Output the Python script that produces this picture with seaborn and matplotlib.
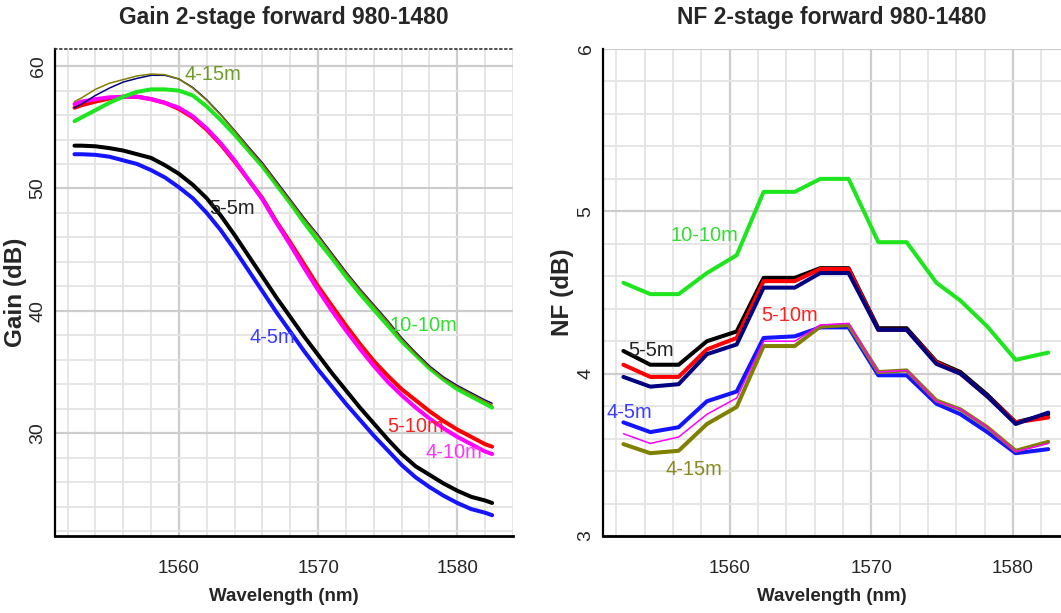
import matplotlib
matplotlib.use("Agg")
import matplotlib.pyplot as plt
from matplotlib.ticker import MultipleLocator
import seaborn as sns
import pandas as pd

# ---------------- data ----------------
gain_wl = [1552.5] + list(range(1553, 1583)) + [1582.5]
gain_4_15 = [57.1, 57.4, 58.1, 58.6, 58.9, 59.2, 59.35, 59.3, 58.95, 58.2,
             57.2, 56.0, 54.7, 53.3, 52.0, 50.5, 49.0, 47.5, 46.1, 44.6,
             43.1, 41.7, 40.4, 39.1, 37.7, 36.5, 35.4, 34.5, 33.8, 33.2,
             32.6, 32.3]
gain_navy = [56.6, 56.9, 57.6, 58.2, 58.7, 59.0, 59.25, 59.25, 58.95, 58.25,
             57.25, 56.05, 54.75, 53.4, 52.1, 50.6, 49.1, 47.6, 46.2, 44.7,
             43.2, 41.8, 40.5, 39.2, 37.8, 36.6, 35.5, 34.6, 33.9, 33.3,
             32.7, 32.45]
gain_10_10 = [55.5, 55.8, 56.4, 57.0, 57.5, 57.9, 58.1, 58.1, 58.0, 57.6,
              56.7, 55.6, 54.4, 53.1, 51.8, 50.3, 48.8, 47.2, 45.7, 44.3,
              42.8, 41.4, 40.1, 38.8, 37.5, 36.4, 35.3, 34.4, 33.6, 33.0,
              32.4, 32.1]
gain_5_10 = [56.6, 56.8, 57.1, 57.35, 57.5, 57.5, 57.3, 57.0, 56.5, 55.8,
             54.8, 53.6, 52.2, 50.7, 49.2, 47.3, 45.6, 43.8, 42.0, 40.4,
             38.8, 37.3, 35.9, 34.7, 33.6, 32.7, 31.8, 31.0, 30.3, 29.7,
             29.1, 28.9]
gain_4_10 = [56.9, 57.1, 57.3, 57.45, 57.5, 57.5, 57.3, 57.0, 56.6, 55.9,
             54.9, 53.7, 52.3, 50.7, 49.1, 47.2, 45.4, 43.5, 41.7, 40.0,
             38.4, 36.9, 35.5, 34.2, 33.1, 32.1, 31.2, 30.4, 29.7, 29.1,
             28.5, 28.3]
gain_5_5 = [53.5, 53.5, 53.45, 53.3, 53.1, 52.8, 52.5, 51.9, 51.2, 50.3,
            49.2, 47.8, 46.2, 44.5, 42.8, 41.1, 39.5, 37.9, 36.4, 34.9,
            33.5, 32.1, 30.8, 29.5, 28.3, 27.3, 26.6, 25.9, 25.3, 24.8,
            24.5, 24.3]
gain_4_5 = [52.8, 52.8, 52.75, 52.6, 52.3, 52.0, 51.5, 50.9, 50.1, 49.2,
            48.0, 46.6, 45.0, 43.3, 41.6, 39.9, 38.3, 36.7, 35.2, 33.8,
            32.4, 31.1, 29.8, 28.6, 27.4, 26.4, 25.6, 24.9, 24.3, 23.8,
            23.5, 23.3]

nf_wl = [1552.5, 1554.4, 1556.4, 1558.4, 1560.5, 1562.4, 1564.6, 1566.4,
         1568.4, 1570.5, 1572.5, 1574.6, 1576.3, 1578.2, 1580.2, 1582.5]
nf_10_10 = [4.56, 4.49, 4.49, 4.62, 4.73, 5.12, 5.12, 5.20, 5.20, 4.81,
            4.81, 4.56, 4.45, 4.29, 4.085, 4.13]
nf_5_5 = [4.14, 4.055, 4.055, 4.20, 4.26, 4.59, 4.59, 4.65, 4.65, 4.28,
          4.28, 4.075, 4.01, 3.87, 3.70, 3.75]
nf_5_10 = [4.055, 3.98, 3.98, 4.15, 4.22, 4.57, 4.57, 4.645, 4.645, 4.27,
           4.27, 4.07, 4.0, 3.86, 3.70, 3.73]
nf_navy = [3.98, 3.92, 3.935, 4.12, 4.18, 4.53, 4.53, 4.62, 4.62, 4.27,
           4.27, 4.06, 4.0, 3.86, 3.69, 3.76]
nf_4_5 = [3.70, 3.64, 3.67, 3.83, 3.89, 4.22, 4.23, 4.285, 4.285, 3.99,
          3.99, 3.815, 3.75, 3.64, 3.51, 3.535]
nf_4_10 = [3.63, 3.57, 3.61, 3.75, 3.85, 4.20, 4.20, 4.30, 4.31, 4.01,
           4.02, 3.83, 3.78, 3.67, 3.52, 3.57]
nf_4_15 = [3.566, 3.51, 3.525, 3.69, 3.795, 4.17, 4.17, 4.29, 4.30, 4.01,
           4.02, 3.835, 3.78, 3.67, 3.525, 3.58]

titles = ["Gain 2-stage forward 980-1480", "NF 2-stage forward 980-1480"]
ylabels = ["Gain (dB)", "NF (dB)"]
xlabel = "Wavelength (nm)"

C_OLIVE = "#808000"
C_NAVY = "#000080"
C_GREEN = "#1ee61e"
C_RED = "#ff0000"
C_MAG = "#ff00ff"
C_BLACK = "#000000"
C_BLUE = "#1414ff"

# ---------------- style ----------------
sns.set_style("white")
FAM = ["Liberation Sans Narrow", "Liberation Sans", "DejaVu Sans"]
plt.rcParams["font.family"] = FAM

W, H = 1061, 613
fig = plt.figure(figsize=(W / 100, H / 100), dpi=100)
axL = fig.add_axes([55 / W, 1 - 536 / H, 458 / W, 487 / H])
axR = fig.add_axes([603 / W, 1 - 536 / H, 458 / W, 487 / H])

THICK = 2.9
THIN = 1.1

gain_series = [
    (gain_4_5, C_BLUE, THICK),
    (gain_5_5, C_BLACK, THICK),
    (gain_5_10, C_RED, THICK),
    (gain_4_10, C_MAG, THICK),
    (gain_10_10, C_GREEN, THICK),
    (gain_navy, C_NAVY, THIN),
    (gain_4_15, C_OLIVE, THIN),
]
for vals, col, lw in gain_series:
    df = pd.DataFrame({"wl": gain_wl, "v": vals})
    sns.lineplot(data=df, x="wl", y="v", ax=axL, color=col, linewidth=lw,
                 sort=False, zorder=3)

nf_series = [
    (nf_10_10, C_GREEN, THICK),
    (nf_5_5, C_BLACK, THICK),
    (nf_5_10, C_RED, THICK),
    (nf_navy, C_NAVY, THICK),
    (nf_4_5, C_BLUE, THICK),
    (nf_4_15, C_OLIVE, THICK),
    (nf_4_10, C_MAG, THIN),
]
for vals, col, lw in nf_series:
    df = pd.DataFrame({"wl": nf_wl, "v": vals})
    sns.lineplot(data=df, x="wl", y="v", ax=axR, color=col, linewidth=lw,
                 sort=False, zorder=3)

axL.set_xlim(1551.1, 1584.0)
axL.set_ylim(21.6, 61.4)
axR.set_xlim(1551.06, 1583.4)
axR.set_ylim(3.0, 6.0)

for ax, ymaj, ymin, ttl, ylab, ylx in [
        (axL, 10, 2, titles[0], ylabels[0], -0.061),
        (axR, 1, 0.2, titles[1], ylabels[1], -0.063)]:
    ax.xaxis.set_major_locator(MultipleLocator(10))
    ax.xaxis.set_minor_locator(MultipleLocator(2))
    ax.yaxis.set_major_locator(MultipleLocator(ymaj))
    ax.yaxis.set_minor_locator(MultipleLocator(ymin))
    ax.grid(which="major", color="#cdcdcd", linewidth=1.6, zorder=0)
    ax.grid(which="minor", color="#e4e4e4", linewidth=1.3, zorder=0)
    ax.set_axisbelow(True)
    ax.tick_params(axis="y", which="major", direction="inout", length=10,
                   width=1.5, labelsize=14, pad=1, color="black")
    ax.tick_params(axis="y", which="minor", direction="inout", length=5,
                   width=1.5, color="black")
    ax.tick_params(axis="x", which="major", direction="inout", length=6,
                   width=1.2, labelsize=13.5, pad=14, color="black")
    ax.tick_params(axis="x", which="minor", direction="inout", length=6,
                   width=1.2, color="black")
    for lab in ax.get_yticklabels():
        lab.set_rotation(90)
        lab.set_va("center")
    ax.spines["left"].set_color("black")
    ax.spines["left"].set_linewidth(1.6)
    ax.spines["bottom"].set_color("black")
    ax.spines["bottom"].set_linewidth(2.0)
    ax.spines["right"].set_visible(False)
    ax.set_title(ttl, fontsize=16.5, fontweight="bold", y=1.064,
                 va="center", pad=0)
    ax.set_xlabel(xlabel, fontsize=13.5, fontweight="bold")
    ax.set_ylabel(ylab, fontsize=17.5, fontweight="bold")
    ax.xaxis.set_label_coords(0.5, -0.107)
    ax.yaxis.set_label_coords(ylx, 0.5)

axL.spines["top"].set_color("#333333")
axL.spines["top"].set_linewidth(1.2)
axL.spines["top"].set_linestyle((0, (1, 2)))
axR.spines["top"].set_visible(False)

# curve labels
lab_kw = dict(fontsize=14.5, va="center", ha="left", zorder=5)
axL.text(1560.4, 59.3, "4-15m", color="#6e9a2a", **lab_kw)
axL.text(1562.2, 48.4, "5-5m", color="#222222", **lab_kw)
axL.text(1565.1, 37.8, "4-5m", color="#3c3cff", **lab_kw)
axL.text(1575.15, 38.8, "10-10m", color="#33dd33", **lab_kw)
axL.text(1575.0, 30.55, "5-10m", color="#ff2020", **lab_kw)
axL.text(1577.7, 28.4, "4-10m", color="#ff33ff", **lab_kw)

axR.text(1555.85, 4.85, "10-10m", color="#33dd33", **lab_kw)
axR.text(1562.24, 4.36, "5-10m", color="#ff2020", **lab_kw)
axR.text(1552.83, 4.14, "5-5m", color="#222222", **lab_kw)
axR.text(1551.3, 3.76, "4-5m", color="#3c3cff", **lab_kw)
axR.text(1555.5, 3.41, "4-15m", color="#8a8a20", **lab_kw)

fig.savefig("out.png", dpi=100)
